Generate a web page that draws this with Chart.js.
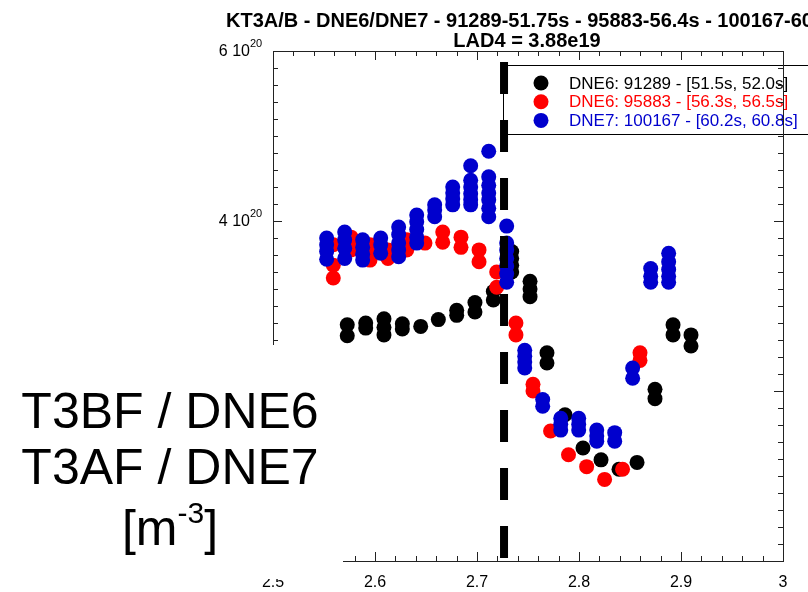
<!DOCTYPE html>
<html>
<head>
<meta charset="utf-8">
<script src="https://cdn.jsdelivr.net/npm/chart.js@4.4.1/dist/chart.umd.min.js"></script>
<style>
    html, body { margin: 0; padding: 0; background: #fff; }
</style>
</head>
<body>
<canvas id="mainGraph" width="808" height="592"></canvas>
<script>
// Data (y values in units of 1e20 m^-3)
const blackCols = [2.5728, 2.5909, 2.6088, 2.6268, 2.6448, 2.6621, 2.6801, 2.6980, 2.7160, 2.7340,
                   2.7520, 2.7686, 2.7863, 2.8039, 2.8216, 2.8392, 2.8569, 2.8745, 2.8922, 2.9098];
const blackVals = [[2.78, 2.65], [2.80, 2.74], [2.85, 2.75, 2.66], [2.79, 2.73], [2.76], [2.84],
                   [2.95, 2.89], [3.04, 2.93], [3.17, 3.07], [3.64, 3.56, 3.48, 3.40], [3.29, 3.20, 3.11],
                   [2.45, 2.33], [1.72], [1.33], [1.19], [1.08], [1.16], [2.02, 1.91], [2.78, 2.66], [2.66, 2.53]];

const redCols = [2.5591, 2.5765, 2.5951, 2.6127, 2.6311, 2.6490, 2.6664, 2.6843, 2.7020, 2.7193,
                 2.7382, 2.7549, 2.7721, 2.7897, 2.8075, 2.8251, 2.8427, 2.8598];
const redVals = [[3.72, 3.48, 3.33], [3.81, 3.74, 3.66], [3.72, 3.58, 3.54], [3.66, 3.56], [3.78, 3.66],
                 [3.74], [3.87, 3.75], [3.81, 3.69], [3.66, 3.52], [3.40, 3.22], [2.80, 2.66], [2.08, 2.00],
                 [1.53], [1.25], [1.11], [0.96], [1.08], [2.45, 2.36]];

const blueCols = [2.5526, 2.5703, 2.5879, 2.6056, 2.6232, 2.6409, 2.6585, 2.6762, 2.6938, 2.7115,
                  2.7291, 2.7468, 2.7644, 2.7821, 2.7997, 2.8174, 2.8350, 2.8526, 2.8703, 2.8879];
const blueVals = [[3.80, 3.72, 3.64, 3.55], [3.87, 3.78, 3.68, 3.56], [3.78, 3.69, 3.61, 3.54], [3.80, 3.72, 3.62],
                  [3.93, 3.84, 3.74, 3.66, 3.58], [4.07, 3.99, 3.90, 3.81, 3.74], [4.19, 4.13, 4.05],
                  [4.40, 4.33, 4.26, 4.19], [4.65, 4.48, 4.40, 4.32, 4.25, 4.19],
                  [4.82, 4.52, 4.42, 4.33, 4.25, 4.15, 4.05], [3.94, 3.74, 3.66, 3.56, 3.47, 3.38, 3.28],
                  [2.48, 2.41, 2.34, 2.27], [1.90, 1.82], [1.68, 1.61, 1.54], [1.68, 1.61, 1.54],
                  [1.54, 1.47, 1.41], [1.51, 1.41], [2.27, 2.15], [3.44, 3.35, 3.28], [3.62, 3.52, 3.43, 3.35, 3.28]];

// LAD4 separatrix position
const sepX = 2.7265;
const sepY = [5.87, 0];

const seriesLabels = ['DNE6: 91289 - [51.5s, 52.0s]', 'DNE6: 95883 - [56.3s, 56.5s]', 'DNE7: 100167 - [60.2s, 60.8s]'];
const seriesColors = ['#000000', '#ff0000', '#0000cd'];

const xTicks = [2.5, 2.6, 2.7, 2.8, 2.9, 3.0];
const xTickLabels = ['2.5', '2.6', '2.7', '2.8', '2.9', '3'];
const yTicks = [0, 2, 4, 6];
const yTickLabels = ['0', '2', '4', '6'];

const titleLines = ['KT3A/B - DNE6/DNE7 - 91289-51.75s - 95883-56.4s - 100167-60.8s', 'LAD4 = 3.88e19'];
const boxLines = ['T3BF / DNE6', 'T3AF / DNE7'];

const FONT = '"Liberation Sans", Arial, Helvetica, sans-serif';

function toPoints(cols, vals) {
    const pts = [];
    cols.forEach((x, i) => vals[i].forEach(y => pts.push({ x: x, y: y })));
    return pts;
}

function line(ctx, x1, y1, x2, y2) {
    ctx.beginPath();
    ctx.moveTo(x1, y1);
    ctx.lineTo(x2, y2);
    ctx.stroke();
}

// Frame, ticks, titles, legend and the label box
const decorPlugin = {
    id: 'decor',
    beforeDatasetsDraw(chart) {
        const ctx = chart.ctx;
        ctx.save();
        // legend box
        ctx.fillStyle = '#fff';
        ctx.fillRect(503, 65, 320, 69);
        ctx.strokeStyle = '#000';
        ctx.lineWidth = 1;
        ctx.strokeRect(503.5, 65.5, 320, 69);
        ctx.font = '17px ' + FONT;
        ctx.textBaseline = 'middle';
        ctx.textAlign = 'left';
        seriesLabels.forEach((lab, i) => {
            const y = 83 + i * 18.7;
            ctx.fillStyle = seriesColors[i];
            ctx.beginPath();
            ctx.arc(541, y, 7.5, 0, Math.PI * 2);
            ctx.fill();
            ctx.fillText(lab, 569, y + 1);
        });
        ctx.restore();
    },
    afterDraw(chart) {
        const ctx = chart.ctx;
        const a = chart.chartArea;
        const xs = chart.scales.x;
        const ys = chart.scales.y;
        ctx.save();
        ctx.strokeStyle = '#222';
        ctx.lineWidth = 1;
        line(ctx, a.left, a.top + 0.5, a.right, a.top + 0.5);
        line(ctx, a.left, a.bottom + 0.5, a.right, a.bottom + 0.5);
        line(ctx, a.left + 0.5, a.top, a.left + 0.5, a.bottom);
        line(ctx, a.right + 0.5, a.top, a.right + 0.5, a.bottom + 1);

        // x ticks, minor every 0.02
        for (let i = 0; i <= 25; i++) {
            const px = Math.round(xs.getPixelForValue(2.5 + i * 0.02)) + 0.5;
            const len = i % 5 === 0 ? 9 : 5;
            line(ctx, px, a.bottom, px, a.bottom - len);
            line(ctx, px, a.top, px, a.top + len);
        }
        // y ticks, minor every 0.2e20
        for (let i = 0; i <= 30; i++) {
            const py = Math.round(ys.getPixelForValue(i * 0.2)) + 0.5;
            const len = i % 10 === 0 ? 9 : 5;
            line(ctx, a.left, py, a.left + len, py);
            line(ctx, a.right, py, a.right - len, py);
        }

        // tick labels
        ctx.fillStyle = '#000';
        ctx.font = '16px ' + FONT;
        ctx.textAlign = 'center';
        ctx.textBaseline = 'alphabetic';
        xTicks.forEach((v, i) => {
            ctx.fillText(xTickLabels[i], xs.getPixelForValue(v), 587);
        });
        yTicks.forEach((v, i) => {
            const py = ys.getPixelForValue(v);
            if (v === 0) {
                ctx.font = '16px ' + FONT;
                ctx.textAlign = 'right';
                ctx.fillText('0', 260, py + 5);
                return;
            }
            ctx.font = '16px ' + FONT;
            ctx.textAlign = 'right';
            ctx.fillText(yTickLabels[i] + ' 10', 250, py + 5);
            ctx.font = '11px ' + FONT;
            ctx.textAlign = 'left';
            ctx.fillText('20', 250, py - 4);
        });

        // title
        ctx.font = 'bold 20px ' + FONT;
        ctx.textAlign = 'left';
        ctx.fillText(titleLines[0], 226, 27);
        ctx.textAlign = 'center';
        ctx.fillText(titleLines[1], 527, 47);

        // white label box over the lower left corner
        ctx.fillStyle = '#fff';
        ctx.fillRect(0, 345, 343, 234);
        ctx.fillStyle = '#000';
        ctx.font = '50px ' + FONT;
        ctx.textAlign = 'center';
        ctx.fillText(boxLines[0], 170, 428);
        ctx.fillText(boxLines[1], 170, 484);
        ctx.textAlign = 'left';
        const w1 = ctx.measureText('[m').width;
        const w3 = ctx.measureText(']').width;
        ctx.font = '30px ' + FONT;
        const w2 = ctx.measureText('-3').width;
        const x0 = 170 - (w1 + w2 + w3) / 2;
        ctx.font = '50px ' + FONT;
        ctx.fillText('[m', x0, 545);
        ctx.fillText(']', x0 + w1 + w2, 545);
        ctx.font = '30px ' + FONT;
        ctx.fillText('-3', x0 + w1, 523);
        ctx.restore();
    }
};

const mainGraph = document.getElementById('mainGraph').getContext('2d');

new Chart(mainGraph, {
    type: 'scatter',
    data: {
        datasets: [
            {
                label: 'LAD4',
                type: 'line',
                data: sepY.map(y => ({ x: sepX, y: y })),
                borderColor: '#000',
                borderWidth: 8,
                borderDash: [32, 26],
                borderCapStyle: 'butt',
                pointRadius: 0,
                order: 0
            },
            {
                label: seriesLabels[2],
                data: toPoints(blueCols, blueVals),
                backgroundColor: seriesColors[2],
                borderWidth: 0,
                pointRadius: 7.5,
                pointHoverRadius: 7.5,
                order: 1
            },
            {
                label: seriesLabels[1],
                data: toPoints(redCols, redVals),
                backgroundColor: seriesColors[1],
                borderWidth: 0,
                pointRadius: 7.5,
                pointHoverRadius: 7.5,
                order: 2
            },
            {
                label: seriesLabels[0],
                data: toPoints(blackCols, blackVals),
                backgroundColor: seriesColors[0],
                borderWidth: 0,
                pointRadius: 7.5,
                pointHoverRadius: 7.5,
                order: 3
            }
        ]
    },
    options: {
        responsive: false,
        animation: false,
        layout: {
            padding: { left: 273, top: 51, right: 25, bottom: 31 }
        },
        scales: {
            x: { type: 'linear', min: 2.5, max: 3.0, display: false },
            y: { type: 'linear', min: 0, max: 6, display: false }
        },
        plugins: {
            legend: { display: false },
            tooltip: { enabled: false },
            title: { display: false }
        }
    },
    plugins: [decorPlugin]
});
</script>
</body>
</html>
